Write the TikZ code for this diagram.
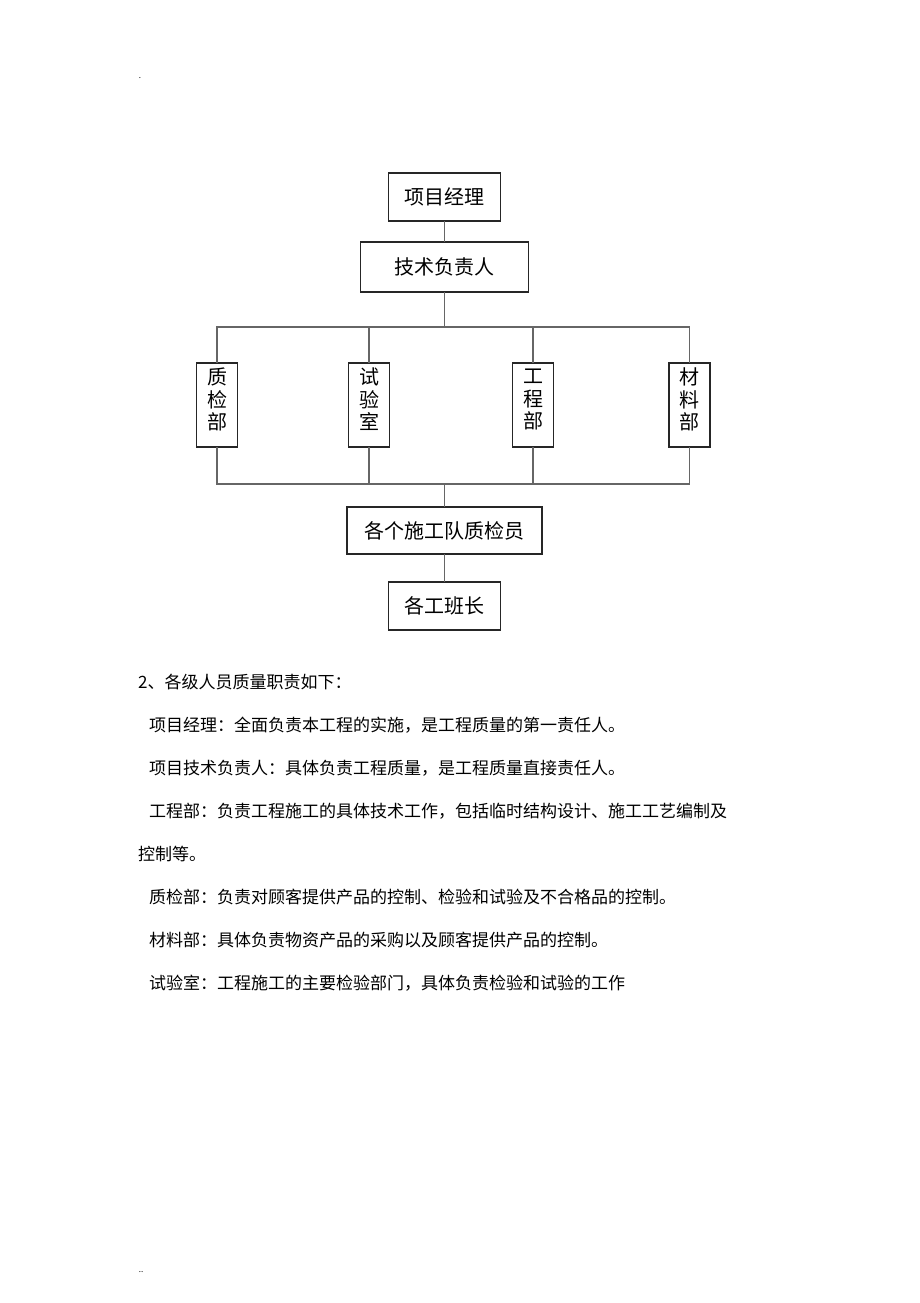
\documentclass[tikz,border=0pt]{standalone}
\usepackage{fontspec}
\setmainfont{Noto Sans CJK SC}
\begin{document}
\begin{tikzpicture}[x=1pt,y=-1pt,
  box/.style={draw=black!85,line width=1.8pt,inner sep=0pt,outer sep=0pt,
    font=\fontsize{20}{22.5}\selectfont,align=center},
  vbox/.style={box,minimum width=41pt,minimum height=84pt,text depth=12pt},
  link/.style={draw=black!60,line width=1.6pt},
  para/.style={anchor=west,inner sep=0pt,font=\fontsize{17}{20}\selectfont}]
\useasboundingbox[fill=white] (0,0) rectangle (920,1303);
\node[inner sep=0pt,font=\fontsize{8}{8}\selectfont] (dottop) at (140,78) {.};
\node[inner sep=0pt,font=\fontsize{8}{8}\selectfont] (dotbot) at (141,1272) {..};

\node[box,minimum width=112pt,minimum height=48pt] (pm) at (444.5,197) {项目经理};
\node[box,minimum width=168pt,minimum height=50pt] (tech) at (444.5,267) {技术负责人};
\node[vbox] (zj) at (217,405) {质\\检\\部};
\node[vbox] (sy) at (369,405) {试\\验\\室};
\node[vbox] (gc) at (533,405) {工\\程\\部};
\node[vbox] (cl) at (689.5,405) {材\\料\\部};
\node[box,minimum width=195pt,minimum height=47pt] (team) at (444.5,530.5) {各个施工队质检员};
\node[box,minimum width=112pt,minimum height=48pt] (bz) at (444.5,606) {各工班长};

\coordinate (bt) at (444.5,327);
\coordinate (bb) at (444.5,484);
\draw[link] (pm.south) -- (tech.north);
\draw[link] (tech.south) -- (bt);
\foreach \n in {zj,sy,gc,cl} {
  \draw[link] (\n.north) |- (bt);
  \draw[link] (\n.south) |- (bb);
}
\draw[link] (bb) -- (team.north);
\draw[link] (team.south) -- (bz.north);

\node[para] (t0) at (138,682) {2、各级人员质量职责如下：};
\node[para] (t1) at (149,725) {项目经理：全面负责本工程的实施，是工程质量的第一责任人。};
\node[para] (t2) at (149,768) {项目技术负责人：具体负责工程质量，是工程质量直接责任人。};
\node[para] (t3) at (149,811) {工程部：负责工程施工的具体技术工作，包括临时结构设计、施工工艺编制及};
\node[para] (t4) at (138,854) {控制等。};
\node[para] (t5) at (149,897) {质检部：负责对顾客提供产品的控制、检验和试验及不合格品的控制。};
\node[para] (t6) at (149,940) {材料部：具体负责物资产品的采购以及顾客提供产品的控制。};
\node[para] (t7) at (149,983) {试验室：工程施工的主要检验部门，具体负责检验和试验的工作};
\end{tikzpicture}
\end{document}
